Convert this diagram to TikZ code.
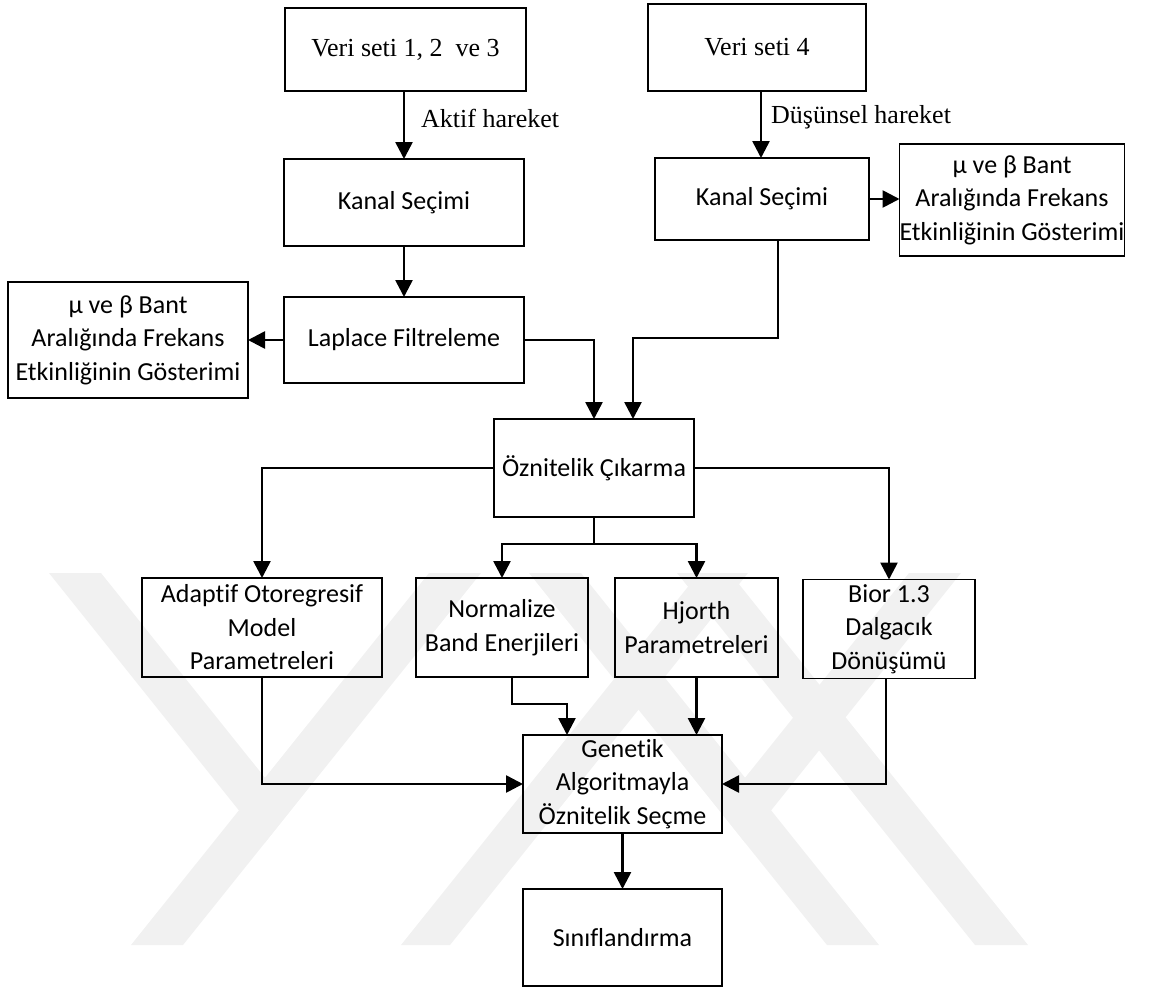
\documentclass[tikz,border=0pt]{standalone}
\usepackage{fontspec}
\setmainfont{Carlito}[Ligatures=NoCommon]
\newfontfamily\seriffont{Liberation Serif}
\usetikzlibrary{arrows.meta,calc}
\definecolor{wmark}{RGB}{241,241,241}
\begin{document}
\begin{tikzpicture}[x=1pt,y=-1pt,
  box/.style={draw, line width=1.9pt, inner sep=0pt, outer sep=0pt, align=center,
              font=\fontsize{26}{33.5}\selectfont},
  serifbox/.style={box, font=\seriffont\fontsize{26}{33.5}\selectfont},
  lbl/.style={anchor=west, inner sep=0pt, font=\seriffont\fontsize{26}{30}\selectfont},
  conn/.style={line width=2.6pt},
  arr/.style={conn, -{Triangle[length=17pt,width=17pt]}},
  band/.style={fill=wmark, draw=none}]
\useasboundingbox (0,0) rectangle (1176,989);

% background emblem: light diagonal bands
\fill[band] (131,945) -- (183,945) -- (481,573) -- (429,573) -- cycle;
\fill[band] (49,573) -- (101,573) -- (290.8,810) -- (264.8,842.75) -- cycle;
\fill[band] (879,945) -- (827,945) -- (529,573) -- (581,573) -- cycle;
\fill[band] (961,573) -- (909,573) -- (719.2,810) -- (745.2,842.75) -- cycle;
\fill[band] (401,945) -- (450,945) -- (748,573) -- (699,573) -- cycle;
\fill[band] (975,945) -- (1028,945) -- (730,573) -- (677,573) -- cycle;

% boxes
\node[serifbox, minimum width=241pt, minimum height=83pt] (v123) at (405.5,49.5) {Veri seti 1, 2~ ve 3};
\node[serifbox, minimum width=218pt, minimum height=87pt] (v4) at (757,47.5) {Veri seti 4};
\node[box, minimum width=240pt, minimum height=87pt] (k1) at (404,202.5) {Kanal Seçimi};
\node[box, minimum width=214pt, minimum height=82pt] (k2) at (762,199) {Kanal Seçimi};
\node[box, minimum width=218pt, minimum height=112pt] (mu2) at (1012,200)
  {µ ve β Bant\\Aralığında Frekans\\Etkinliğinin Gösterimi};
\node[box, minimum width=240pt, minimum height=86pt] (lap) at (404,340) {Laplace Filtreleme};
\node[box, minimum width=240pt, minimum height=116pt] (mu1) at (128,340)
  {µ ve β Bant\\Aralığında Frekans\\Etkinliğinin Gösterimi};
\node[box, minimum width=200pt, minimum height=98pt] (oz) at (594,468) {Öznitelik Çıkarma};
\node[box, minimum width=240pt, minimum height=99pt] (ad) at (262,627.5)
  {Adaptif Otoregresif\\Model\\Parametreleri};
\node[box, minimum width=172pt, minimum height=99pt] (nb) at (502,627.5)
  {Normalize\\Band Enerjileri};
\node[box, minimum width=163pt, minimum height=99pt] (hj) at (696.5,627.5)
  {Hjorth\\Parametreleri};
\node[box, minimum width=172pt, minimum height=99pt] (bi) at (889,629)
  {Bior 1.3\\Dalgacık\\Dönüşümü};
\node[box, minimum width=199pt, minimum height=98pt] (ge) at (622.5,784)
  {Genetik\\Algoritmayla\\Öznitelik Seçme};
\node[box, minimum width=199pt, minimum height=97pt] (si) at (622.5,937.5) {Sınıflandırma};

% edge labels
\node[lbl] (la) at (421,118) {Aktif hareket};
\node[lbl] (lb) at (771,117) {Düşünsel hareket};

% helper points for off-centre connector ends
\coordinate (k2in)  at ($(k2.north)+(-1,0)$);
\coordinate (k2out) at ($(k2.south)+(16,0)$);
\coordinate (ozin)  at ($(oz.north)+(39,0)$);
\coordinate (nbout) at ($(nb.south)+(10,0)$);
\coordinate (biout) at ($(bi.south)+(-3,0)$);
\coordinate (gein)  at ($(ge.north)+(-55.5,0)$);

% connectors
\draw[arr] (k1.north |- v123.south) -- (k1.north);
\draw[arr] (k2in |- v4.south) -- (k2in);
\draw[arr] (k2.east) -- (k2.east -| mu2.west);
\draw[arr] (k1.south) -- (lap.north);
\draw[arr] (lap.west) -- (lap.west -| mu1.east);
\draw[arr] (lap.east) -| (oz.north);
\draw[arr] (k2out) -- ++(0,98) -| (ozin);

\draw[arr] (oz.west) -| (ad.north);
\draw[arr] (oz.east) -| (bi.north);
\draw[conn] (oz.south) -- ++(0,27) coordinate (br);
\draw[arr] (br) -| (nb.north);
\draw[arr] (br) -| (hj.north);

\draw[arr] (ad.south) |- (ge.west);
\draw[arr] (biout) |- (ge.east);
\draw[arr] (nbout) -- ++(0,27) -| (gein);
\draw[arr] (hj.south) -- (hj.south |- ge.north);
\draw[arr] (ge.south) -- (si.north);
\end{tikzpicture}
\end{document}
